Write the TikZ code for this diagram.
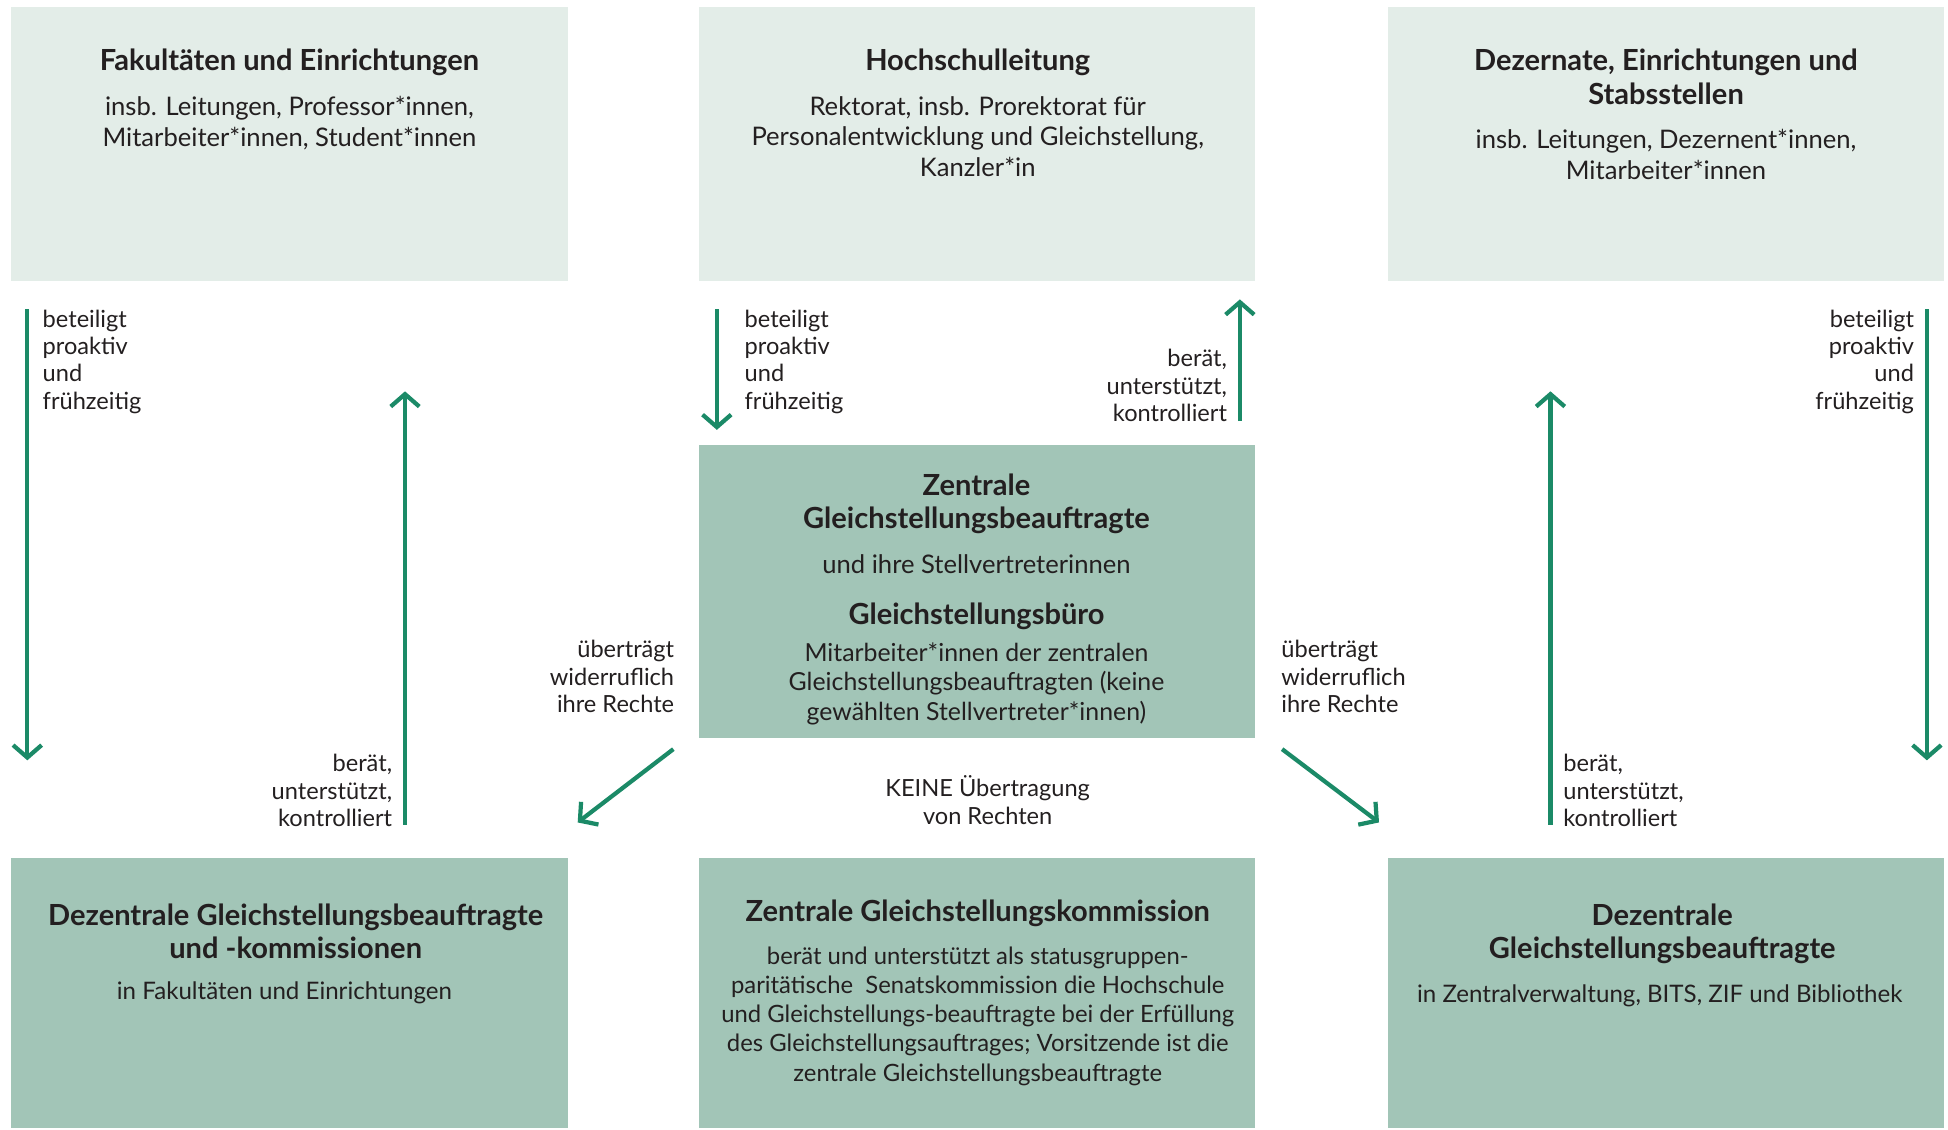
\documentclass[tikz,border=0pt]{standalone}
\usepackage{fontspec}
\setmainfont{Lato}
\usetikzlibrary{arrows.meta}
\definecolor{boxlight}{HTML}{E3EDE8}
\definecolor{boxdark}{HTML}{A2C5B7}
\definecolor{arrowgreen}{HTML}{1B8A67}
\definecolor{txt}{HTML}{231F20}
\tikzset{
  panel/.style={rectangle, inner sep=0pt, outer sep=0pt, minimum width=224pt},
  lightpanel/.style={panel, fill=boxlight, minimum height=110pt},
  darkpanel/.style={panel, fill=boxdark},
  titletext/.style={anchor=north, align=center, inner sep=0pt, text=txt, font=\bfseries\fontsize{11.7}{13.5}\selectfont},
  bodytext/.style={anchor=north, align=center, inner sep=0pt, text=txt, font=\fontsize{10.3}{12.35}\selectfont},
  midbody/.style={bodytext, font=\fontsize{10}{11.8}\selectfont},
  lowbody/.style={bodytext, font=\fontsize{9.7}{12}\selectfont},
  smallbody/.style={bodytext, font=\fontsize{9.6}{11.7}\selectfont},
  lbl/.style={inner sep=0pt, text=txt, font=\fontsize{9.5}{11}\selectfont},
  lblL/.style={lbl, anchor=north west, align=left},
  lblR/.style={lbl, anchor=north east, align=right},
  lblC/.style={lbl, anchor=north, align=center},
  flow/.style={draw=arrowgreen, line width=1.7pt, -{Straight Barb[length=5pt,width=11.5pt]}},
}
\begin{document}
\begin{tikzpicture}[x=0.5pt,y=-0.5pt]
\useasboundingbox (0,0) rectangle (1568,909);
% panels
\node[lightpanel] (tl) at (233,116) {};
\node[lightpanel] (tm) at (786.5,116) {};
\node[lightpanel] (tr) at (1341,116) {};
\node[darkpanel, minimum height=118pt] (cz) at (786.5,476) {};
\node[darkpanel, minimum height=108.5pt] (bl) at (233,799.5) {};
\node[darkpanel, minimum height=108.5pt] (bm) at (786.5,799.5) {};
\node[darkpanel, minimum height=108.5pt] (br) at (1341,799.5) {};
% texts in panels
\node[titletext] (tlT) at (233,39) {Fakultäten und Einrichtungen};
\node[bodytext] (tlB) at (233,77) {insb. Leitungen, Professor*innen,\\Mitarbeiter*innen, Student*innen};
\node[titletext] (tmT) at (787,39) {Hochschulleitung};
\node[bodytext] (tmB) at (787,77) {Rektorat, insb. Prorektorat für\\Personalentwicklung und Gleichstellung,\\Kanzler*in};
\node[titletext] (trT) at (1341,39) {Dezernate, Einrichtungen und\\Stabsstellen};
\node[bodytext] (trB) at (1341,104) {insb. Leitungen, Dezernent*innen,\\Mitarbeiter*innen};
\node[titletext] (czT) at (786,381) {Zentrale\\Gleichstellungsbeauftragte};
\node[bodytext] (czB) at (786,446) {und ihre Stellvertreterinnen};
\node[titletext] (czT2) at (786,485) {Gleichstellungsbüro};
\node[midbody] (czB2) at (786,517) {Mitarbeiter*innen der zentralen\\Gleichstellungsbeauftragten (keine\\gewählten Stellvertreter*innen)};
\node[titletext] (blT) at (238,727) {Dezentrale Gleichstellungsbeauftragte\\und -kommissionen};
\node[lowbody] (blB) at (229,790) {in Fakultäten und Einrichtungen};
\node[titletext] (bmT) at (787,724) {Zentrale Gleichstellungskommission};
\node[smallbody] (bmB) at (787,762) {berät und unterstützt als statusgruppen-\\paritätische\ \ Senatskommission die Hochschule\\und Gleichstellungs-beauftragte bei der Erfüllung\\des Gleichstellungsauftrages; Vorsitzende ist die\\zentrale Gleichstellungsbeauftragte};
\node[titletext] (brT) at (1338,727) {Dezentrale\\Gleichstellungsbeauftragte};
\node[lowbody] (brB) at (1336,792) {in Zentralverwaltung, BITS, ZIF und Bibliothek};
% arrow end points
\coordinate (a1s) at (22,249);   \coordinate (a1e) at (22,612);
\coordinate (a2s) at (326,664);  \coordinate (a2e) at (326,315);
\coordinate (a3s) at (577,249);  \coordinate (a3e) at (577,346);
\coordinate (a4s) at (998,339);  \coordinate (a4e) at (998,241);
\coordinate (a5s) at (1248,664); \coordinate (a5e) at (1248,315);
\coordinate (a6s) at (1551,249); \coordinate (a6e) at (1551,612);
\coordinate (a7s) at (542,603);  \coordinate (a7e) at (465,662);
\coordinate (a8s) at (1032,603); \coordinate (a8e) at (1110,662);
\draw[flow] (a1s) -- (a1e);
\draw[flow] (a2s) -- (a2e);
\draw[flow] (a3s) -- (a3e);
\draw[flow] (a4s) -- (a4e);
\draw[flow] (a5s) -- (a5e);
\draw[flow] (a6s) -- (a6e);
\draw[flow] (a7s) -- (a7e);
\draw[flow] (a8s) -- (a8e);
% labels
\node[lblL] (l1) at (34,249) {beteiligt\\proaktiv\\und\\frühzeitig};
\node[lblR] (l2) at (316,607) {berät,\\unterstützt,\\kontrolliert};
\node[lblL] (l3) at (599,249) {beteiligt\\proaktiv\\und\\frühzeitig};
\node[lblR] (l4) at (988,281) {berät,\\unterstützt,\\kontrolliert};
\node[lblL] (l5) at (1258,607) {berät,\\unterstützt,\\kontrolliert};
\node[lblR] (l6) at (1541,249) {beteiligt\\proaktiv\\und\\frühzeitig};
\node[lblR] (l7) at (543,515) {überträgt\\widerruflich\\ihre Rechte};
\node[lblL] (l8) at (1031,515) {überträgt\\widerruflich\\ihre Rechte};
\node[lblC] (l9) at (795,624) {KEINE Übertragung\\von Rechten};
\end{tikzpicture}
\end{document}
